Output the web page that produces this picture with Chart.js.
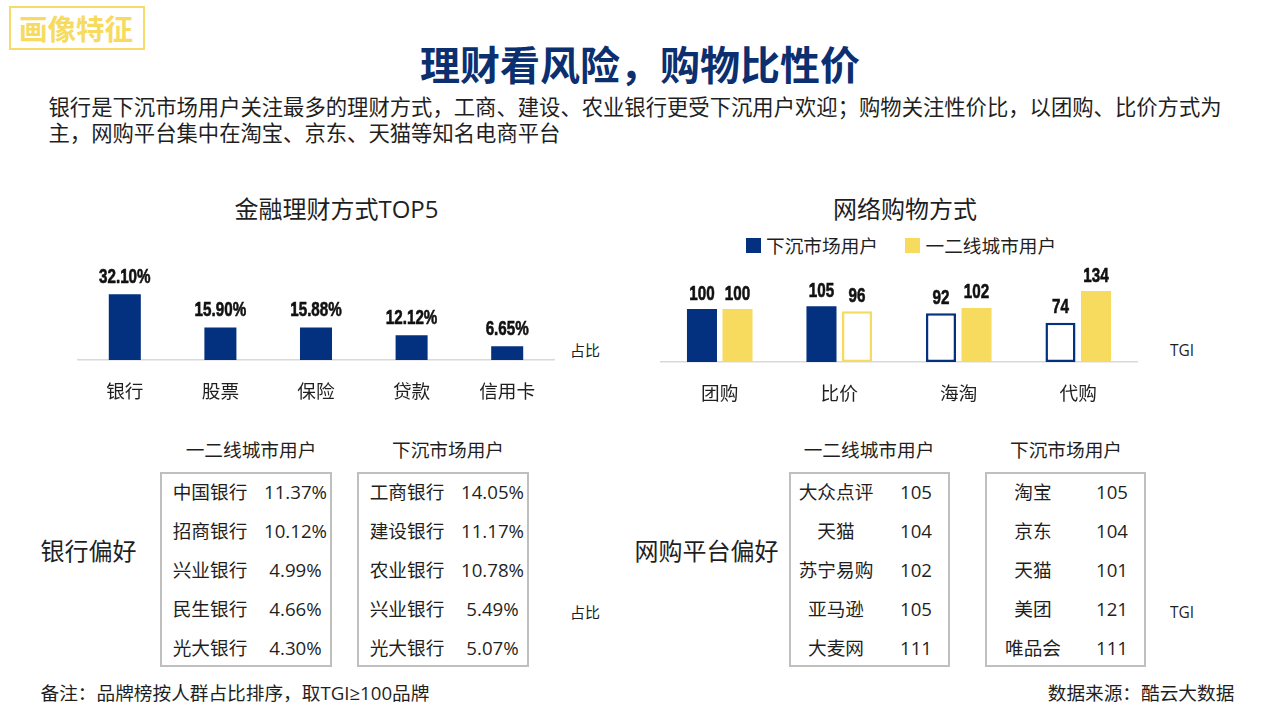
<!DOCTYPE html>
<html lang="zh-CN">
<head>
<meta charset="utf-8">
<title>理财看风险，购物比性价</title>
<script src="https://cdn.jsdelivr.net/npm/chart.js@4"></script>
<style>
  html, body { margin: 0; padding: 0; background: #fff; }
  body { width: 1280px; height: 719px; position: relative; overflow: hidden; color: #1f1f1f; font-family: "Open Sans", "Noto Sans CJK SC", sans-serif; }
  canvas { position: absolute; }
  .t { position: absolute; white-space: nowrap; line-height: 1.2; transform: translate(-50%, -50%); }
  .l { transform: translate(0, -50%); }
  .box { position: absolute; box-sizing: border-box; border: 2px solid #bfbfbf; top: 472px; height: 195px; }
  .key { position: absolute; top: 238px; width: 15px; height: 15px; }
  #tag { position: absolute; box-sizing: border-box; left: 9px; top: 6px; width: 136px; height: 44px; border: 2px solid #f6db6a; }
  #lead { position: absolute; left: 48.5px; top: 93.5px; width: 1176px; font-size: 21.33px; line-height: 26px; }
</style>
</head>
<body>
<div id="tag"></div>
<div id="lead">银行是下沉市场用户关注最多的理财方式，工商、建设、农业银行更受下沉用户欢迎；购物关注性价比，以团购、比价方式为主，网购平台集中在淘宝、京东、天猫等知名电商平台</div>
<canvas id="finance-chart" width="478" height="150" style="left:77px;top:260px"></canvas>
<canvas id="shopping-chart" width="478" height="150" style="left:660px;top:262px"></canvas>
<script>
const financeLabels = ['银行', '股票', '保险', '贷款', '信用卡'];
const financeShares = [32.10, 15.90, 15.88, 12.12, 6.65];

const shoppingLabels = ['团购', '比价', '海淘', '代购'];
const lowerTierTgi = [100, 105, 92, 74];
const upperTierTgi = [100, 96, 102, 134];

const lowerTierName = '下沉市场用户';
const upperTierName = '一二线城市用户';

const bankUpperNames = ['中国银行', '招商银行', '兴业银行', '民生银行', '光大银行'];
const bankUpperShares = ['11.37%', '10.12%', '4.99%', '4.66%', '4.30%'];
const bankLowerNames = ['工商银行', '建设银行', '农业银行', '兴业银行', '光大银行'];
const bankLowerShares = ['14.05%', '11.17%', '10.78%', '5.49%', '5.07%'];

const shopUpperNames = ['大众点评', '天猫', '苏宁易购', '亚马逊', '大麦网'];
const shopUpperTgi = ['105', '104', '102', '105', '111'];
const shopLowerNames = ['淘宝', '京东', '天猫', '美团', '唯品会'];
const shopLowerTgi = ['105', '104', '101', '121', '111'];

const NAVY = '#03307f';
const YELLOW = '#f6db5f';
const FONT = '"Open Sans", "Noto Sans CJK SC", sans-serif';

// text helper, x and y are the centre of the text
function put(text, x, y, size, extra) {
  const el = document.createElement('div');
  el.className = 't';
  el.textContent = text;
  el.style.left = x + 'px';
  el.style.top = y + 'px';
  el.style.fontSize = size + 'px';
  Object.assign(el.style, extra || {});
  document.body.appendChild(el);
  return el;
}

// same, but x is the left edge
function putLeft(text, x, y, size) {
  put(text, x, y, size).classList.add('l');
}

function putBox(left, width) {
  const el = document.createElement('div');
  el.className = 'box';
  el.style.left = left + 'px';
  el.style.width = width + 'px';
  document.body.appendChild(el);
}

function putKey(left, color) {
  const el = document.createElement('div');
  el.className = 'key';
  el.style.left = left + 'px';
  el.style.background = color;
  document.body.appendChild(el);
}

function putRows(names, values, nameX, valueX) {
  const rowY = [492, 531, 570, 609, 648];
  names.forEach((name, i) => {
    put(name, nameX, rowY[i], 18.67);
    put(values[i], valueX, rowY[i], 18.67);
  });
}

put('画像特征', 76, 29, 28.5, { color: YELLOW, fontWeight: 700 });
put('理财看风险，购物比性价', 640, 65, 40, { color: '#0c2f70', fontWeight: 700 });
put('金融理财方式TOP5', 336.5, 209, 24);
put('网络购物方式', 905, 209, 24);
put('占比', 585, 350, 15);
put('TGI', 1182, 350, 15.5);

putKey(746, NAVY);
putLeft(lowerTierName, 766, 246, 18.67);
putKey(905, YELLOW);
putLeft(upperTierName, 925.5, 246, 18.67);

put(upperTierName, 251, 449.5, 18.67);
put(lowerTierName, 448, 449.5, 18.67);
put(upperTierName, 869, 449.5, 18.67);
put(lowerTierName, 1066, 449.5, 18.67);
put('银行偏好', 88.5, 551, 24);
put('网购平台偏好', 706.5, 551, 24);
put('占比', 585, 612, 15);
put('TGI', 1182, 612, 15.5);

putBox(160, 172);
putBox(357, 172);
putBox(789, 161);
putBox(985, 161);
putRows(bankUpperNames, bankUpperShares, 210, 295.5);
putRows(bankLowerNames, bankLowerShares, 407, 492.5);
putRows(shopUpperNames, shopUpperTgi, 836, 916);
putRows(shopLowerNames, shopLowerTgi, 1033, 1112);

put('备注：品牌榜按人群占比排序，取TGI≥100品牌', 235, 693, 18.67);
put('数据来源：酷云大数据', 1141, 693, 18.67);

// numbers above the bars, squeezed since there is no narrow bold font here
const barValues = {
  id: 'barValues',
  afterDatasetsDraw(chart, args, opts) {
    const ctx = chart.ctx;
    chart.data.datasets.forEach((ds, d) => {
      chart.getDatasetMeta(d).data.forEach((bar, i) => {
        ctx.save();
        ctx.translate(bar.x, bar.y - opts.gap);
        ctx.scale(0.76, 1);
        ctx.font = 'bold 20px "Liberation Sans"';
        ctx.fillStyle = '#111';
        ctx.strokeStyle = '#111';
        ctx.lineWidth = 0.6;
        ctx.textAlign = 'center';
        ctx.textBaseline = 'middle';
        ctx.fillText(opts.format(ds.data[i]), 0, 0);
        ctx.strokeText(opts.format(ds.data[i]), 0, 0);
        ctx.restore();
      });
    });
  }
};

function xAxis(labels) {
  return {
    labels: labels,
    grid: { display: false },
    border: { display: true, color: '#d9d9d9', width: 1.5 },
    ticks: { color: '#1f1f1f', font: { family: FONT, size: 18.67 }, padding: 13, maxRotation: 0, autoSkip: false },
    afterFit(scale) { scale.height = 50; }
  };
}

new Chart(document.getElementById('finance-chart'), {
  type: 'bar',
  plugins: [barValues],
  data: {
    labels: financeLabels,
    datasets: [{ data: financeShares, backgroundColor: NAVY, categoryPercentage: 1, barPercentage: 0.335 }]
  },
  options: {
    responsive: false,
    animation: false,
    plugins: {
      legend: { display: false },
      tooltip: { enabled: false },
      barValues: { gap: 16.5, format: v => v.toFixed(2) + '%' }
    },
    scales: {
      x: xAxis(financeLabels),
      y: { display: false, min: 0, max: 48.8 }
    }
  }
});

// a bar below TGI 100 is drawn hollow
function tierDataset(name, values, color) {
  return {
    label: name,
    data: values,
    backgroundColor: c => c.raw < 100 ? '#fff' : color,
    borderColor: color,
    borderWidth: c => c.raw < 100 ? 2.5 : 0,
    borderSkipped: false,
    categoryPercentage: 0.595,
    barPercentage: 0.845
  };
}

new Chart(document.getElementById('shopping-chart'), {
  type: 'bar',
  plugins: [barValues],
  data: {
    labels: shoppingLabels,
    datasets: [
      tierDataset(lowerTierName, lowerTierTgi, NAVY),
      tierDataset(upperTierName, upperTierTgi, YELLOW)
    ]
  },
  options: {
    responsive: false,
    animation: false,
    plugins: {
      legend: { display: false },
      tooltip: { enabled: false },
      barValues: { gap: 15, format: v => String(v) }
    },
    scales: {
      x: xAxis(shoppingLabels),
      y: { display: false, min: 0, max: 188.7 }
    }
  }
});
</script>
</body>
</html>
